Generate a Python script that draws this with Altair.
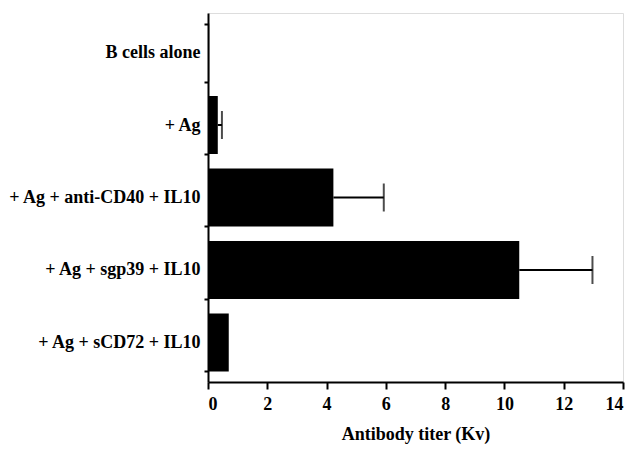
import altair as alt
import pandas as pd

categories = ["B cells alone", "+ Ag", "+ Ag + anti-CD40 + IL10",
              "+ Ag + sgp39 + IL10", "+ Ag + sCD72 + IL10"]
titer = [0.04, 0.33, 4.23, 10.5, 0.7]
upper = [None, 0.47, 5.93, 12.97, None]

df = pd.DataFrame({"cat": categories, "titer": titer, "upper": upper})

FONT = "Liberation Serif"

y_enc = alt.Y("cat:N", sort=categories, title=None,
              scale=alt.Scale(paddingInner=0.2, paddingOuter=0.145),
              axis=alt.Axis(tickBand="extent", tickSize=4, labelPadding=4,
                            labelFont=FONT, labelFontSize=18, labelFontWeight="bold",
                            labelColor="black", domainColor="black", domainWidth=2,
                            tickColor="black", tickWidth=2, labelLimit=400))

x_scale = alt.Scale(domain=[0, 14], nice=False)
x_axis = alt.Axis(values=list(range(0, 15)), grid=False,
                  labelExpr="datum.value % 2 === 0 ? datum.label : ''",
                  tickSize={"condition": {"test": "datum.value % 2 === 0", "value": 7}, "value": 4},
                  tickColor="black", tickWidth=2, domainColor="black", domainWidth=2,
                  labelFont=FONT, labelFontSize=18, labelFontWeight="bold",
                  labelColor="black", labelPadding=6,
                  title="Antibody titer (Kv)", titleFont=FONT, titleFontSize=18,
                  titleFontWeight="bold", titleColor="black", titlePadding=12)

bars = alt.Chart(df).mark_bar(color="black").encode(
    x=alt.X("titer:Q", scale=x_scale, axis=x_axis),
    y=y_enc,
)

err = alt.Chart(df).transform_filter("isValid(datum.upper)")
rule = err.mark_rule(color="black", strokeWidth=2).encode(
    x=alt.X("titer:Q", scale=x_scale),
    x2="upper:Q",
    y=alt.Y("cat:N", sort=categories),
)
cap = err.mark_tick(color="black", thickness=2, size=28).encode(
    x=alt.X("upper:Q", scale=x_scale),
    y=alt.Y("cat:N", sort=categories),
)

chart = (bars + rule + cap).properties(
    width=415, height=369,
    autosize=alt.AutoSizeParams(type="none"),
    padding={"left": 200, "top": 5, "right": 9, "bottom": 68},
).configure_view(stroke=None).configure(background="white")

chart.save("out.html", embed_options={"renderer": "svg", "actions": False})
